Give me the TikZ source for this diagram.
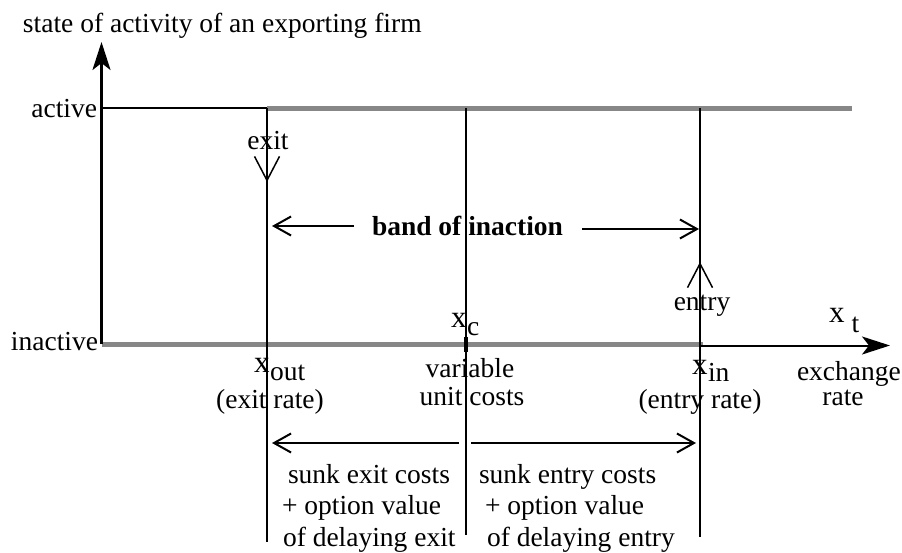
\documentclass[tikz,border=0pt]{standalone}
\usepackage{fontspec}
\setmainfont{Liberation Serif}
\usetikzlibrary{arrows.meta}
\definecolor{bandgray}{rgb}{0.53,0.53,0.53}
\newcommand{\bigx}{{\fontsize{31}{28}\selectfont x}}
\begin{document}
\begin{tikzpicture}[x=1pt,y=-1pt,
  lbl/.style={inner sep=0pt, outer sep=0pt, font=\fontsize{27.5}{28}\selectfont},
  grayline/.style={line width=5pt, draw=bandgray},
  thinline/.style={line width=1.2pt},
  medline/.style={line width=2pt},
  vee/.style={line width=1.5pt,-{Straight Barb[length=24pt,width=25pt]}},
  bandarrow/.style={line width=2pt,-{Straight Barb[length=17pt,width=19pt]}},
  axisarrow/.style={line width=2.5pt,-{Stealth[length=28pt,width=18pt,inset=7pt]}}
]
\useasboundingbox (0,0) rectangle (902,552);
% key points
\coordinate (O) at (101.5,344);
\coordinate (Ytop) at (101.5,42);
\coordinate (A0) at (101.5,108);
\coordinate (Aout) at (267,108);
\coordinate (Ac) at (466,108);
\coordinate (Ain) at (700,108);
\coordinate (Aend) at (852,108);
\coordinate (Iin) at (703,344);
\coordinate (Xs) at (700,345.5);
\coordinate (Xtip) at (890,345.5);
\coordinate (Bout) at (267,542);
\coordinate (Bc) at (466,535);
\coordinate (Bin) at (700,537);
\coordinate (Tc1) at (466,337);
\coordinate (Tc2) at (466,352);
% exit / entry arrows
\coordinate (Ex1) at (267,158);
\coordinate (Ex2) at (267,182);
\coordinate (En1) at (700,286);
\coordinate (En2) at (700,262);
% band arrows
\coordinate (BL1) at (354,226);
\coordinate (BL2) at (272,226);
\coordinate (BR1) at (582,229);
\coordinate (BR2) at (699,229);
% cost arrows
\coordinate (CL1) at (459,443);
\coordinate (CL2) at (272,443);
\coordinate (CR1) at (471,443);
\coordinate (CR2) at (696,443);

% lines
\draw[grayline] (Aout) -- (Aend);
\draw[line width=1.8pt] (A0) -- (Aout);
\draw[grayline] (O) -- (Iin);
\draw[axisarrow, line width=2pt] (Xs) -- (Xtip);
\draw[thinline] (Aout) -- (Bout);
\draw[medline] (Ac) -- (Bc);
\draw[medline] (Ain) -- (Bin);
\draw[line width=4pt] (Tc1) -- (Tc2);
\draw[axisarrow] (O) -- (Ytop);

\draw[vee] (Ex1) -- (Ex2);
\draw[vee] (En1) -- (En2);
\draw[bandarrow] (BL1) -- (BL2);
\draw[bandarrow] (BR1) -- (BR2);
\draw[bandarrow] (CL1) -- (CL2);
\draw[bandarrow] (CR1) -- (CR2);

% labels
\node[lbl, anchor=base west] (title) at (23,32) {state of activity of an exporting firm};
\node[lbl, anchor=base east] (active) at (97,117) {active};
\node[lbl, anchor=base east] (inactive) at (98,350) {inactive};
\node[lbl, anchor=base] (exit) at (268,149) {exit};
\node[lbl, anchor=base west, font=\fontsize{27.5}{28}\selectfont\bfseries] (band) at (372,235) {band of inaction};
\node[lbl, anchor=base] (entry) at (702,310) {entry};
\node[lbl, anchor=base west] (xc) at (451,327) {\bigx\kern0.5pt\raisebox{-8pt}{c}};
\node[lbl, anchor=base west] (xout) at (254,372) {\bigx\kern0.5pt\raisebox{-8pt}{out}};
\node[lbl, anchor=base west] (xin) at (692,374) {\bigx\kern0.5pt\raisebox{-7pt}{in}};
\node[lbl, anchor=base west] (xt) at (829,322) {\bigx\kern7pt\raisebox{-10pt}{t}};
\node[lbl, anchor=base] (var1) at (470,377) {variable};
\node[lbl, anchor=base] (var2) at (472,405) {unit costs};
\node[lbl, anchor=base west] (exch1) at (797,380) {exchange};
\node[lbl, anchor=base] (exch2) at (843,405) {rate};
\node[lbl, anchor=base] (exitrate) at (270,408) {(exit rate)};
\node[lbl, anchor=base] (entryrate) at (700,408) {(entry rate)};
\node[lbl, anchor=base west] (sx1) at (288,483) {sunk exit costs};
\node[lbl, anchor=base west] (sx2) at (282,514) {+ option value};
\node[lbl, anchor=base west] (sx3) at (283,546) {of delaying exit};
\node[lbl, anchor=base west] (se1) at (479,483) {sunk entry costs};
\node[lbl, anchor=base west] (se2) at (485,514) {+ option value};
\node[lbl, anchor=base west] (se3) at (487,546) {of delaying entry};
\end{tikzpicture}
\end{document}
